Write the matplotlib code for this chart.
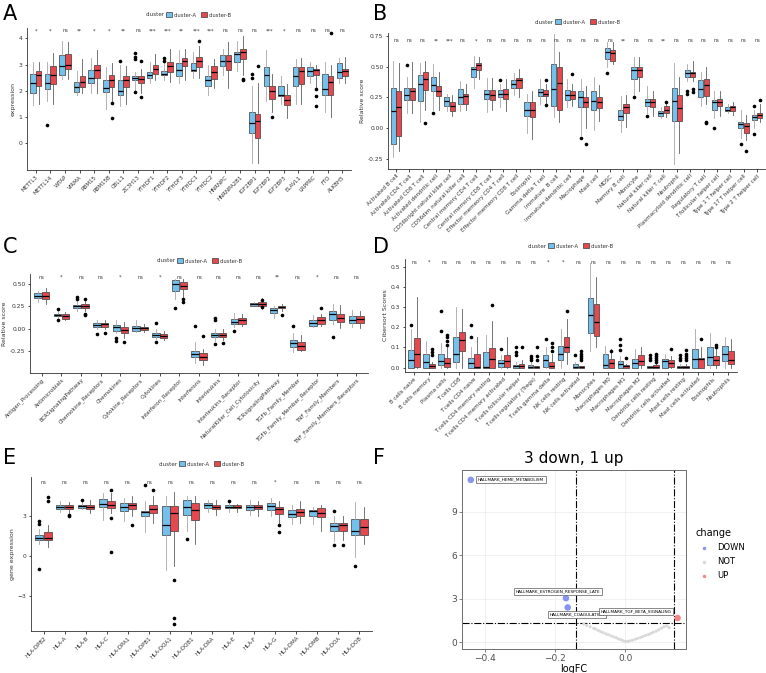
import matplotlib
matplotlib.use('Agg')
import matplotlib.pyplot as plt
from matplotlib.patches import Patch
from matplotlib.lines import Line2D

W, H = 766, 673
BLUE = '#74C0EC'
RED = '#E5484D'

# ---------------- Panel A: m6A regulators ----------------
a_genes = ['METTL3', 'METTL14', 'WTAP', 'VIRMA', 'RBM15', 'RBM15B', 'CBLL1', 'ZC3H13',
           'YTHDF1', 'YTHDF2', 'YTHDF3', 'YTHDC1', 'YTHDC2', 'HNRNPC', 'HNRNPA2B1',
           'IGF2BP1', 'IGF2BP2', 'IGF2BP3', 'ELAVL1', 'LRPPRC', 'FTO', 'ALKBH5']
a_sig = ['*', '*', 'ns', '**', '*', '*', '**', 'ns', '***', '***', '**', '***', '***',
         'ns', 'ns', 'ns', '***', '*', 'ns', 'ns', 'ns', 'ns']
# (whisker low, q1, median, q3, whisker high)
a_blue = [(1.45, 1.9, 2.3, 2.65, 3.1), (1.6, 2.05, 2.3, 2.65, 3.1), (2.45, 2.6, 2.95, 3.35, 3.9),
          (1.85, 1.95, 2.15, 2.35, 2.75), (1.9, 2.3, 2.5, 2.8, 3.25), (1.3, 1.95, 2.1, 2.4, 2.9),
          (1.4, 1.85, 2.0, 2.4, 3.0), (2.0, 2.4, 2.5, 2.55, 2.7), (2.3, 2.5, 2.6, 2.7, 3.1),
          (2.4, 2.6, 2.65, 2.75, 3.1), (2.3, 2.55, 2.8, 3.05, 3.55), (2.5, 2.75, 2.78, 3.05, 3.5),
          (1.85, 2.2, 2.4, 2.55, 3.0), (2.6, 2.95, 3.15, 3.35, 3.6), (2.75, 3.1, 3.4, 3.5, 3.9),
          (-0.75, 0.37, 0.78, 1.19, 2.2), (1.6, 2.2, 2.6, 2.9, 3.55), (1.5, 1.8, 1.85, 2.2, 2.55),
          (1.5, 2.2, 2.55, 2.9, 3.2), (2.3, 2.55, 2.75, 2.9, 3.1), (1.2, 1.85, 2.05, 2.65, 3.1),
          (2.3, 2.5, 2.7, 3.05, 3.25)]
a_red = [(1.5, 2.2, 2.6, 2.75, 3.1), (1.5, 2.25, 2.6, 2.95, 3.45), (2.45, 2.85, 3.0, 3.4, 3.85),
         (1.9, 2.15, 2.35, 2.55, 3.2), (1.9, 2.5, 2.8, 3.0, 3.55), (1.6, 2.15, 2.4, 2.6, 3.05),
         (1.5, 2.15, 2.4, 2.55, 2.95), (1.9, 2.3, 2.45, 2.55, 2.85), (2.4, 2.65, 2.85, 3.0, 3.4),
         (2.35, 2.7, 2.95, 3.1, 3.6), (2.4, 2.95, 3.15, 3.25, 3.6), (2.5, 2.9, 3.15, 3.3, 3.7),
         (2.1, 2.45, 2.7, 2.95, 3.2), (2.1, 2.8, 3.15, 3.35, 3.85), (2.6, 3.2, 3.5, 3.6, 4.1),
         (-0.75, 0.2, 0.86, 1.13, 2.3), (1.2, 1.7, 2.0, 2.2, 2.65), (0.95, 1.45, 1.65, 1.85, 2.25),
         (1.5, 2.25, 2.75, 2.9, 3.25), (2.1, 2.6, 2.8, 2.85, 3.0), (1.0, 1.85, 2.35, 2.55, 3.0),
         (2.3, 2.55, 2.75, 2.85, 3.3)]
a_blue_out = {2: [0.7], 7: [3.15], 8: [3.45, 3.3, 3.2, 1.95], 10: [3.25, 3.15], 16: [2.65, 2.5]}
a_red_out = {6: [1.55, 0.95], 8: [3.15, 1.75], 12: [3.9], 15: [2.45, 2.4], 16: [2.95], 17: [1.0],
             20: [2.05, 1.8, 1.4], 21: [4.2]}

# ---------------- Panel B: ssGSEA immune cells ----------------
b_cells = ['Activated B cell', 'Activated CD4 T cell', 'Activated CD8 T cell', 'Activated dendritic cell',
           'CD56bright natural killer cell', 'CD56dim natural killer cell', 'Central memory CD4 T cell',
           'Central memory CD8 T cell', 'Effector memeory CD4 T cell', 'Effector memeory CD8 T cell',
           'Eosinophil', 'Gamma delta T cell', 'Immature  B cell', 'Immature dendritic cell',
           'Macrophage', 'Mast cell', 'MDSC', 'Memory B cell', 'Monocyte', 'Natural killer cell',
           'Natural killer T cell', 'Neutrophil', 'Plasmacytoid dendritic cell', 'Regulatory T cell',
           'T follicular helper cell', 'Type 1 T helper cell', 'Type 17 T helper cell', 'Type 2 T helper cell']
b_sig = ['ns', 'ns', 'ns', '**', '***', 'ns', '*', 'ns', 'ns', 'ns', 'ns', 'ns', 'ns', 'ns',
         'ns', 'ns', 'ns', '**', 'ns', 'ns', '**', 'ns', 'ns', 'ns', 'ns', 'ns', 'ns', 'ns']
b_blue = [(-0.24, -0.13, 0.14, 0.33, 0.55), (0.12, 0.23, 0.27, 0.33, 0.42), (0.05, 0.22, 0.36, 0.43, 0.53),
          (0.15, 0.30, 0.35, 0.42, 0.52), (0.14, 0.18, 0.22, 0.25, 0.28), (0.14, 0.20, 0.25, 0.32, 0.38),
          (0.33, 0.42, 0.48, 0.50, 0.59), (0.13, 0.24, 0.28, 0.31, 0.41), (0.17, 0.25, 0.28, 0.31, 0.36),
          (0.27, 0.33, 0.36, 0.39, 0.45), (-0.04, 0.10, 0.15, 0.21, 0.28), (0.2, 0.26, 0.29, 0.32, 0.40),
          (0.09, 0.18, 0.32, 0.52, 0.77), (0.17, 0.23, 0.27, 0.31, 0.40), (-0.06, 0.17, 0.25, 0.30, 0.40),
          (-0.02, 0.15, 0.22, 0.30, 0.42), (0.50, 0.56, 0.62, 0.65, 0.70), (-0.03, 0.065, 0.10, 0.15, 0.26),
          (0.26, 0.40, 0.47, 0.50, 0.58), (0.12, 0.18, 0.21, 0.24, 0.34), (0.08, 0.10, 0.12, 0.14, 0.17),
          (-0.29, 0.06, 0.22, 0.33, 0.53), (0.38, 0.42, 0.45, 0.47, 0.52), (0.18, 0.25, 0.32, 0.39, 0.46),
          (0.08, 0.15, 0.21, 0.23, 0.30), (0.12, 0.14, 0.15, 0.17, 0.20), (-0.08, 0.0, 0.03, 0.05, 0.15),
          (0.0, 0.065, 0.09, 0.11, 0.15)]
b_red = [(-0.19, -0.065, 0.17, 0.30, 0.53), (0.12, 0.23, 0.30, 0.33, 0.54), (0.15, 0.31, 0.40, 0.46, 0.55),
         (0.15, 0.26, 0.30, 0.34, 0.46), (0.10, 0.14, 0.18, 0.21, 0.27), (0.15, 0.20, 0.26, 0.28, 0.36),
         (0.40, 0.47, 0.51, 0.53, 0.58), (0.15, 0.23, 0.27, 0.31, 0.41), (0.14, 0.24, 0.28, 0.32, 0.40),
         (0.25, 0.33, 0.39, 0.41, 0.48), (-0.09, 0.09, 0.15, 0.21, 0.30), (0.20, 0.26, 0.28, 0.31, 0.36),
         (0.05, 0.15, 0.37, 0.50, 0.62), (0.18, 0.24, 0.27, 0.30, 0.36), (0.0, 0.17, 0.21, 0.25, 0.34),
         (0.06, 0.16, 0.21, 0.25, 0.35), (0.52, 0.55, 0.61, 0.64, 0.70), (0.01, 0.12, 0.17, 0.20, 0.27),
         (0.30, 0.42, 0.47, 0.50, 0.58), (0.10, 0.17, 0.21, 0.24, 0.30), (0.09, 0.12, 0.15, 0.18, 0.22),
         (-0.2, 0.06, 0.16, 0.27, 0.42), (0.38, 0.42, 0.45, 0.46, 0.55), (0.2, 0.26, 0.35, 0.40, 0.50),
         (0.10, 0.18, 0.21, 0.24, 0.30), (0.11, 0.14, 0.17, 0.18, 0.21), (-0.10, -0.04, 0.02, 0.04, 0.11),
         (0.05, 0.08, 0.11, 0.125, 0.20)]
b_blue_out = {2: [0.51], 4: [0.12], 9: [0.39], 15: [-0.08], 17: [0.45], 19: [0.25], 20: [0.10],
              23: [0.30, 0.28], 25: [0.0], 27: [-0.13], 28: [-0.05, 0.18]}
b_red_out = {3: [0.04], 12: [0.39, 0.19], 14: [0.44], 15: [-0.13], 21: [0.21],
             23: [0.32, 0.29], 24: [0.05, 0.04], 27: [-0.19], 28: [0.23]}

# ---------------- Panel C: immune pathways ----------------
c_paths = ['Antigen_Processing', 'Antimicrobials', 'BCRSignalingPathway', 'Chemokine_Receptors',
           'Chemokines', 'Cytokine_Receptors', 'Cytokines', 'Interferon_Receptor', 'Interferons',
           'Interleukins', 'Interleukins_Receptor', 'NaturalKiller_Cell_Cytotoxicity',
           'TCRsignalingPathway', 'TGFb_Family_Member', 'TGFb_Family_Member_Receptor',
           'TNF_Family_Members', 'TNF_Family_Members_Receptors']
c_sig = ['ns', '*', 'ns', 'ns', '*', 'ns', '*', 'ns', 'ns', 'ns', 'ns', 'ns', '**', 'ns', '*', 'ns', 'ns']
c_blue = [(0.30, 0.34, 0.37, 0.40, 0.42), (0.12, 0.14, 0.155, 0.17, 0.20), (0.20, 0.23, 0.25, 0.27, 0.31),
          (0.0, 0.026, 0.048, 0.063, 0.10), (-0.05, -0.02, 0.018, 0.044, 0.10), (-0.03, -0.02, 0.007, 0.033, 0.10),
          (-0.11, -0.085, -0.067, -0.048, 0.0), (0.33, 0.42, 0.50, 0.54, 0.56), (-0.38, -0.31, -0.28, -0.24, -0.15),
          (-0.13, -0.093, -0.067, -0.04, 0.0), (0.02, 0.06, 0.08, 0.11, 0.18), (0.25, 0.26, 0.28, 0.29, 0.30),
          (0.12, 0.18, 0.21, 0.23, 0.26), (-0.26, -0.20, -0.16, -0.12, -0.05), (0.02, 0.035, 0.065, 0.10, 0.15),
          (0.05, 0.10, 0.17, 0.20, 0.28), (0.02, 0.065, 0.10, 0.14, 0.21)]
c_red = [(0.28, 0.33, 0.37, 0.41, 0.45), (0.10, 0.115, 0.14, 0.165, 0.19), (0.20, 0.23, 0.26, 0.28, 0.31),
         (0.0, 0.026, 0.052, 0.07, 0.10), (-0.10, -0.048, -0.01, 0.026, 0.08), (-0.03, -0.01, 0.007, 0.026, 0.05),
         (-0.12, -0.10, -0.078, -0.056, -0.02), (0.35, 0.44, 0.48, 0.52, 0.55), (-0.40, -0.34, -0.31, -0.27, -0.22),
         (-0.12, -0.093, -0.07, -0.045, 0.0), (0.03, 0.06, 0.10, 0.12, 0.17), (0.22, 0.26, 0.28, 0.30, 0.34),
         (0.20, 0.23, 0.245, 0.26, 0.28), (-0.25, -0.23, -0.19, -0.15, -0.07), (0.03, 0.06, 0.10, 0.13, 0.17),
         (0.01, 0.08, 0.12, 0.17, 0.27), (0.01, 0.065, 0.115, 0.14, 0.20)]
c_blue_out = {2: [0.22, 0.10], 3: [0.33, 0.35], 4: [-0.06], 5: [-0.10, -0.13], 7: [0.07, -0.15],
              8: [0.23], 9: [0.03], 10: [0.12, 0.10, -0.17], 11: [-0.02], 14: [0.03], 16: [-0.09]}
c_red_out = {3: [0.17, 0.15, 0.33], 4: [-0.05], 5: [-0.15], 8: [0.33, 0.30], 9: [-0.08],
             10: [-0.16], 12: [0.32, 0.24], 13: [0.15], 15: [0.23]}

# ---------------- Panel D: CIBERSORT ----------------
d_cells = ['B cells naive', 'B cells memory', 'Plasma cells', 'T cells CD8', 'T cells CD4 naive',
           'T cells CD4 memory resting', 'T cells CD4 memory activated', 'T cells follicular helper',
           'T cells regulatory (Tregs)', 'T cells gamma delta', 'NK cells resting', 'NK cells activated',
           'Monocytes', 'Macrophages M0', 'Macrophages M1', 'Macrophages M2', 'Dendritic cells resting',
           'Dendritic cells activated', 'Mast cells resting', 'Mast cells activated', 'Eosinophils', 'Neutrophils']
d_sig = ['ns', '*', 'ns', 'ns', 'ns', 'ns', 'ns', 'ns', 'ns', '*', '*', 'ns', 'ns', 'ns', 'ns',
         'ns', 'ns', 'ns', 'ns', 'ns', 'ns', 'ns']
d_blue = [(0.0, 0.0, 0.037, 0.087, 0.19), (0.0, 0.0, 0.028, 0.07, 0.13), (0.0, 0.012, 0.033, 0.07, 0.12),
          (0.0, 0.028, 0.07, 0.153, 0.30), (0.0, 0.0, 0.023, 0.05, 0.10), (0.0, 0.0, 0.002, 0.078, 0.16),
          (0.0, 0.003, 0.023, 0.037, 0.065), (0.0, 0.0, 0.007, 0.015, 0.03), (0.0, 0.0, 0.003, 0.015, 0.03),
          (0.0, 0.003, 0.04, 0.062, 0.10), (0.0, 0.037, 0.07, 0.107, 0.19), (0.0, 0.0, 0.003, 0.02, 0.03),
          (0.08, 0.17, 0.26, 0.345, 0.52), (0.0, 0.0, 0.012, 0.07, 0.105), (0.0, 0.0, 0.017, 0.033, 0.06),
          (0.0, 0.0, 0.025, 0.045, 0.09), (0.0, 0.0, 0.003, 0.007, 0.01), (0.0, 0.0, 0.033, 0.045, 0.07),
          (0.0, 0.0, 0.003, 0.007, 0.02), (0.0, 0.0, 0.045, 0.092, 0.19), (0.0, 0.012, 0.053, 0.103, 0.17),
          (0.0, 0.033, 0.07, 0.107, 0.15)]
d_red = [(0.0, 0.003, 0.07, 0.145, 0.35), (0.0, 0.0, 0.007, 0.017, 0.03), (0.0, 0.003, 0.023, 0.05, 0.10),
         (0.0, 0.083, 0.137, 0.175, 0.29), (0.0, 0.0, 0.002, 0.067, 0.15), (0.0, 0.0, 0.042, 0.095, 0.23),
         (0.0, 0.003, 0.033, 0.062, 0.15), (0.0, 0.0, 0.01, 0.02, 0.04), (0.0, 0.0, 0.002, 0.007, 0.01),
         (0.0, 0.0, 0.007, 0.028, 0.07), (0.02, 0.075, 0.103, 0.153, 0.24), (0.0, 0.0, 0.003, 0.008, 0.01),
         (0.10, 0.155, 0.225, 0.315, 0.45), (0.0, 0.0, 0.023, 0.045, 0.09), (0.0, 0.0, 0.007, 0.012, 0.02),
         (0.0, 0.012, 0.033, 0.062, 0.10), (0.0, 0.0, 0.003, 0.012, 0.02), (0.0, 0.003, 0.025, 0.04, 0.06),
         (0.0, 0.0, 0.003, 0.008, 0.02), (0.0, 0.0, 0.042, 0.05, 0.10), (0.0, 0.012, 0.037, 0.057, 0.10),
         (0.0, 0.017, 0.037, 0.083, 0.14)]
d_blue_out = {1: [0.21], 3: [0.28, 0.18], 5: [0.21, 0.15], 7: [0.09], 8: [0.10, 0.075, 0.065],
              9: [0.06, 0.05, 0.04], 10: [0.14], 12: [0.065], 15: [0.14, 0.11, 0.085],
              17: [0.065, 0.05, 0.04], 19: [0.065, 0.05, 0.04]}
d_red_out = {2: [0.09, 0.078, 0.065], 3: [0.16, 0.15, 0.13, 0.11], 6: [0.31], 8: [0.10],
             9: [0.10, 0.06, 0.04], 10: [0.12, 0.10, 0.08], 11: [0.28], 12: [0.08, 0.07, 0.06, 0.05, 0.04],
             14: [0.08], 15: [0.05], 17: [0.07, 0.06, 0.05, 0.04, 0.03], 18: [0.09],
             19: [0.085, 0.07, 0.06, 0.05, 0.04], 20: [0.14], 21: [0.11, 0.10]}

# ---------------- Panel E: HLA genes ----------------
e_genes = ['HLA-DPB2', 'HLA-A', 'HLA-B', 'HLA-C', 'HLA-DPA1', 'HLA-DPB1', 'HLA-DQA1', 'HLA-DQB1',
           'HLA-DRA', 'HLA-E', 'HLA-F', 'HLA-G', 'HLA-DMA', 'HLA-DMB', 'HLA-DOA', 'HLA-DOB']
e_sig = ['ns'] * 11 + ['*'] + ['ns'] * 4
e_blue = [(0.9, 1.22, 1.34, 1.61, 2.0), (3.3, 3.49, 3.66, 3.78, 4.1), (3.5, 3.59, 3.73, 3.8, 4.2),
          (2.7, 3.66, 3.9, 4.27, 4.7), (2.6, 3.37, 3.66, 3.97, 4.3), (1.8, 3.0, 3.29, 3.37, 4.1),
          (-1.05, 1.59, 2.3, 3.73, 4.5), (1.9, 3.05, 3.7, 4.15, 4.5), (3.3, 3.56, 3.78, 3.93, 4.2),
          (3.3, 3.59, 3.7, 3.78, 4.0), (3.1, 3.44, 3.66, 3.85, 4.2), (3.0, 3.44, 3.73, 3.93, 4.3),
          (2.4, 2.93, 3.17, 3.41, 3.8), (2.4, 3.0, 3.37, 3.41, 3.7), (1.1, 1.9, 2.27, 2.44, 3.0),
          (-0.1, 1.54, 1.9, 2.8, 4.0)]
e_red = [(0.7, 1.22, 1.37, 1.83, 2.3), (3.2, 3.49, 3.66, 3.78, 4.0), (3.2, 3.49, 3.68, 3.85, 4.2),
         (3.2, 3.6, 3.85, 4.1, 4.7), (3.0, 3.49, 3.78, 3.93, 4.5), (2.5, 3.24, 3.49, 3.85, 4.5),
         (-0.7, 1.9, 3.24, 3.73, 4.8), (0.9, 2.7, 3.44, 3.93, 4.5), (3.1, 3.54, 3.7, 3.85, 4.2),
         (3.3, 3.59, 3.66, 3.78, 3.9), (3.0, 3.49, 3.66, 3.8, 4.1), (2.5, 3.17, 3.54, 3.66, 4.1),
         (2.5, 3.0, 3.29, 3.49, 4.1), (1.9, 2.95, 3.24, 3.56, 3.8), (1.2, 1.9, 2.32, 2.46, 3.0),
         (0.9, 1.59, 2.15, 2.76, 3.7)]
e_blue_out = {1: [2.6, 2.4, -0.95], 3: [4.2], 6: [5.27], 8: [1.3], 10: [4.1], 15: [3.4, 0.8], 16: [-0.7]}
e_red_out = {1: [4.4, 4.1], 2: [3.1, 3.0], 4: [4.9, 2.85, 0.3], 5: [2.3], 6: [4.9],
             7: [-1.8, -4.6, -5.05], 12: [2.3, 1.8], 15: [0.8]}

# ---------------- Panel F: volcano ----------------
f_down_fc = [-0.44, -0.169, -0.164]
f_down_p = [11.2, 3.03, 2.39]
f_down_lab = ['HALLMARK_HEME_METABOLISM', 'HALLMARK_ESTROGEN_RESPONSE_LATE', 'HALLMARK_COAGULATION']
f_up_fc = [0.149]
f_up_p = [1.66]
f_up_lab = ['HALLMARK_TGF_BETA_SIGNALING']
f_not_fc = [-0.118, -0.11, -0.1, -0.09, -0.085, -0.077, -0.07, -0.063, -0.055, -0.048, -0.04, -0.033,
            -0.026, -0.02, -0.013, -0.007, 0.0, 0.006, 0.012, 0.02, 0.028, 0.035, 0.043, 0.05, 0.058,
            0.066, 0.073, 0.08, 0.088, 0.095, 0.103, 0.11, 0.118, 0.125]
f_not_p = [1.25, 1.15, 1.05, 0.95, 0.9, 0.8, 0.72, 0.65, 0.56, 0.5, 0.42, 0.36, 0.3, 0.22, 0.17, 0.1,
           0.05, 0.04, 0.08, 0.12, 0.19, 0.25, 0.31, 0.38, 0.46, 0.52, 0.6, 0.68, 0.75, 0.85, 0.95,
           1.05, 1.12, 1.0]


def px_rect(l, t, r, b):
    return [l / W, 1 - b / H, (r - l) / W, (b - t) / H]


def make_stats(rows, outs):
    stats = []
    for i, (lo, q1, med, q3, hi) in enumerate(rows):
        stats.append(dict(whislo=lo, q1=q1, med=med, q3=q3, whishi=hi,
                          fliers=outs.get(i + 1, [])))
    return stats


def box_panel(ax, cats, sig, blue, red, blue_out, red_out, ylim, yticks, ylabel, sig_y):
    n = len(cats)
    pos = list(range(1, n + 1))
    groups = [(blue, blue_out, BLUE, -0.2, '#a6a6a6'), (red, red_out, RED, 0.2, '#5e5e5e')]
    for rows, outs, col, off, wcol in groups:
        ax.bxp(make_stats(rows, outs), positions=[p + off for p in pos], widths=0.38,
               patch_artist=True, showcaps=False,
               boxprops=dict(facecolor=col, edgecolor='#3a3a3a', linewidth=0.5),
               whiskerprops=dict(color=wcol, linewidth=0.6),
               medianprops=dict(color='black', linewidth=0.9),
               flierprops=dict(marker='o', markersize=1.6, markerfacecolor='black',
                               markeredgecolor='black', linestyle='none'))
    for p, s in zip(pos, sig):
        ax.text(p, sig_y, s, ha='center', va='center', fontsize=3.6, color='#333333')
    ax.set_xlim(0.4, n + 0.6)
    ax.set_ylim(*ylim)
    ax.set_xticks(pos)
    ax.set_xticklabels(cats, rotation=45, ha='right', rotation_mode='anchor',
                       fontsize=4.0, color='#333333')
    ax.set_yticks(yticks)
    ax.tick_params(axis='y', labelsize=4.3, labelcolor='#333333', length=1.8, width=0.5, pad=1.5)
    ax.tick_params(axis='x', length=1.8, width=0.5, pad=1.5)
    ax.set_ylabel(ylabel, fontsize=4.5, color='#333333', labelpad=2)
    for s in ['top', 'right']:
        ax.spines[s].set_visible(False)
    for s in ['left', 'bottom']:
        ax.spines[s].set_color('#333333')
        ax.spines[s].set_linewidth(0.6)


legends = []


def box_legend(fig, cx, cy):
    handles = [Patch(facecolor=BLUE, edgecolor='#3a3a3a', linewidth=0.5),
               Patch(facecolor=RED, edgecolor='#3a3a3a', linewidth=0.5)]
    leg = fig.legend(handles, ['cluster-A', 'cluster-B'], loc='center',
                     bbox_to_anchor=(cx / W, 1 - cy / H), ncol=2, frameon=False, fontsize=3.8,
                     handlelength=1.1, handleheight=0.9, columnspacing=0.7, handletextpad=0.35,
                     labelcolor='#333333', borderpad=0.1)
    txt = fig.text(0, 1 - cy / H, 'cluster', fontsize=4.1, ha='right', va='center',
                   color='#333333')
    legends.append((leg, txt))


fig = plt.figure(figsize=(W / 100, H / 100), dpi=100)
fig.patch.set_facecolor('white')

axA = fig.add_axes(px_rect(27, 28, 351, 170))
box_panel(axA, a_genes, a_sig, a_blue, a_red, a_blue_out, a_red_out,
          (-1.03, 4.4), [0, 1, 2, 3, 4], 'expression', 4.3)
box_legend(fig, 199, 15)

axB = fig.add_axes(px_rect(388, 33, 765, 169))
box_panel(axB, b_cells, b_sig, b_blue, b_red, b_blue_out, b_red_out,
          (-0.334, 0.775), [-0.25, 0.0, 0.25, 0.50, 0.75], 'Relative score', 0.71)
axB.set_yticklabels(['-0.25', '0.00', '0.25', '0.50', '0.75'])
box_legend(fig, 588, 22)

axC = fig.add_axes(px_rect(30, 274, 368, 373))
box_panel(axC, c_paths, c_sig, c_blue, c_red, c_blue_out, c_red_out,
          (-0.49, 0.61), [-0.25, 0.0, 0.25, 0.50], 'Relative score', 0.575)
axC.set_yticklabels(['-0.25', '0.00', '0.25', '0.50'])
box_legend(fig, 210, 261)

axD = fig.add_axes(px_rect(405, 259, 737, 372))
box_panel(axD, d_cells, d_sig, d_blue, d_red, d_blue_out, d_red_out,
          (-0.022, 0.54), [0, 0.1, 0.2, 0.3, 0.4, 0.5], 'Cibersort Scores', 0.525)
axD.set_yticklabels(['0.0', '0.1', '0.2', '0.3', '0.4', '0.5'])
box_legend(fig, 581, 246)

axE = fig.add_axes(px_rect(31, 477, 372, 631))
box_panel(axE, e_genes, e_sig, e_blue, e_red, e_blue_out, e_red_out,
          (-5.58, 5.9), [-3, 0, 3], 'gene expression', 5.49)
box_legend(fig, 212, 464)

# volcano
axF = fig.add_axes(px_rect(462, 470, 686, 649))
axF.set_facecolor('white')
axF.grid(True, color='#ebebeb', linewidth=0.5)
axF.set_axisbelow(True)
axF.scatter(f_not_fc, f_not_p, s=5, color='#d9d9d9', edgecolors='none', zorder=2)
axF.scatter(f_down_fc, f_down_p, s=22, color='#8794F2', edgecolors='none', zorder=3)
axF.scatter(f_up_fc, f_up_p, s=22, color='#F38585', edgecolors='none', zorder=3)
axF.axvline(-0.14, color='black', linestyle='-.', linewidth=0.8, zorder=1)
axF.axvline(0.138, color='black', linestyle='-.', linewidth=0.8, zorder=1)
axF.axhline(1.30, color='black', linestyle='-.', linewidth=0.8, zorder=1)
axF.set_xlim(-0.465, 0.173)
axF.set_ylim(-0.48, 11.88)
axF.set_xticks([-0.4, -0.2, 0.0])
axF.set_yticks([0, 3, 6, 9])
axF.tick_params(labelsize=6.5, labelcolor='#4d4d4d', color='#4d4d4d', length=2, width=0.5, pad=1.5)
axF.set_xlabel('logFC', fontsize=7, labelpad=0.5)
axF.set_title('3 down, 1 up', fontsize=11, pad=5)
for s in axF.spines.values():
    s.set_color('#6e6e6e')
    s.set_linewidth(0.7)
lab_style = dict(fontsize=3.1, ha='center', va='center', zorder=4,
                 bbox=dict(boxstyle='square,pad=0.35', fc='white', ec='#333333', lw=0.4))
label_off = [(29, 0.4), (-5.8, 4.9), (6.7, -4.9), (-29.7, 4.9)]
for (x, y, t), off in zip(list(zip(f_down_fc, f_down_p, f_down_lab)) +
                          list(zip(f_up_fc, f_up_p, f_up_lab)), label_off):
    axF.annotate(t, (x, y), xytext=off, textcoords='offset points', **lab_style)
hF = [Line2D([], [], marker='o', linestyle='none', markersize=2.5, color=c, markeredgecolor='none')
      for c in ['#8794F2', '#d9d9d9', '#F38585']]
legF = fig.legend(hF, ['DOWN', 'NOT', 'UP'], title='change', loc='upper left',
                  bbox_to_anchor=(688 / W, 1 - 521 / H), frameon=False, fontsize=6,
                  title_fontsize=7, handletextpad=0.6, labelspacing=0.6)
legF._legend_box.align = 'left'

for letter, x, y in [('A', 3, 14), ('B', 373, 14), ('C', 3, 247), ('D', 373, 247),
                     ('E', 3, 458), ('F', 373, 458)]:
    fig.text(x / W, 1 - y / H, letter, fontsize=15, ha='left', va='center')

# put the "cluster" title just left of each legend
fig.canvas.draw()
for leg, txt in legends:
    bb = leg.get_window_extent()
    txt.set_x((bb.x0 - 1) / W)

fig.savefig('out.png', dpi=100)
